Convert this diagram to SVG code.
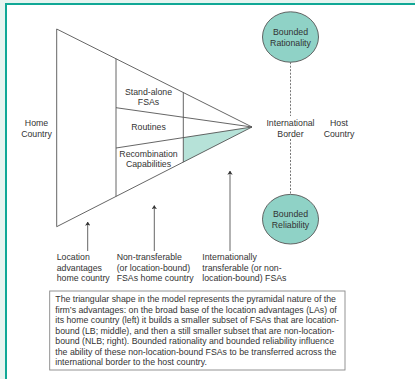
<svg xmlns="http://www.w3.org/2000/svg" width="415" height="379" viewBox="0 0 415 379">
<defs>
<style>
text{font-family:"Liberation Sans",Arial,sans-serif;font-size:8.75px;fill:#333;}
.c{text-anchor:middle;}
.ln{stroke:#555;stroke-width:0.9;fill:none;}
.ell{fill:#8fd2c6;stroke:#555;stroke-width:0.9;}
.dash{stroke:#666;stroke-width:0.9;stroke-dasharray:2,1.5;fill:none;}
.arr{stroke:#555;stroke-width:0.9;fill:none;marker-end:url(#ah);}
</style>
<marker id="ah" viewBox="0 0 6 8" refX="5.5" refY="4" markerWidth="4" markerHeight="5.5" orient="auto" markerUnits="userSpaceOnUse">
<path d="M0,0 L6,4 L0,8 L1.5,4 Z" fill="#333"/>
</marker>
</defs>
<rect x="0" y="0" width="415" height="379" fill="#e6f4f0"/>
<rect x="6" y="4" width="409" height="375" fill="#ffffff"/>
<line x1="5" y1="4" x2="415" y2="4" stroke="#10a896" stroke-width="2"/>
<line x1="6" y1="3" x2="6" y2="379" stroke="#10a896" stroke-width="2"/>

<g id="triangle">
<polygon points="183.3,137.6 252,127 183.3,162.2" fill="#b6e2d8"/>
<polygon class="ln" points="56.7,29 252,127 56.7,226.7"/>
<line class="ln" x1="116" y1="58.8" x2="116" y2="196.4"/>
<line class="ln" x1="183.3" y1="92.5" x2="183.3" y2="162.2"/>
<line class="ln" x1="116" y1="107.7" x2="252" y2="127"/>
<line class="ln" x1="116" y1="148" x2="252" y2="127"/>
<text class="c" x="148.5" y="95">Stand-alone</text>
<text class="c" x="148.5" y="105">FSAs</text>
<text class="c" x="148.5" y="130">Routines</text>
<text class="c" x="148.5" y="157">Recombination</text>
<text class="c" x="148.5" y="167">Capabilities</text>
</g>

<g id="home">
<text class="c" x="36.5" y="126">Home</text>
<text class="c" x="36.5" y="136.5">Country</text>
</g>
<g id="border-label">
<text class="c" x="290.5" y="126">International</text>
<text class="c" x="290.5" y="136.5">Border</text>
</g>
<g id="host">
<text class="c" x="339" y="126">Host</text>
<text class="c" x="339" y="136.5">Country</text>
</g>

<g id="bounded-rationality">
<ellipse class="ell" cx="290.5" cy="37" rx="28" ry="25.2"/>
<text class="c" x="290.5" y="35">Bounded</text>
<text class="c" x="290.5" y="45.5">Rationality</text>
</g>
<g id="bounded-reliability">
<ellipse class="ell" cx="290.5" cy="219.2" rx="28" ry="24.8"/>
<text class="c" x="290.5" y="217">Bounded</text>
<text class="c" x="290.5" y="227.5">Reliability</text>
</g>

<g id="connectors">
<line class="dash" x1="290.5" y1="62.2" x2="290.5" y2="116"/>
<line class="dash" x1="290.5" y1="139" x2="290.5" y2="194.4"/>
<line class="arr" x1="87.7" y1="251" x2="87.7" y2="222"/>
<line class="arr" x1="154.3" y1="251" x2="154.3" y2="205.5"/>
<line class="arr" x1="230" y1="251" x2="230" y2="171"/>
</g>

<g id="label-location">
<text x="56.7" y="260">Location</text>
<text x="56.7" y="270.5">advantages</text>
<text x="56.7" y="281">home country</text>
</g>
<g id="label-nontransferable">
<text x="116.7" y="260">Non-transferable</text>
<text x="116.7" y="270.5">(or location-bound)</text>
<text x="116.7" y="281">FSAs home country</text>
</g>
<g id="label-transferable">
<text x="202.3" y="260">Internationally</text>
<text x="202.3" y="270.5">transferable (or non-</text>
<text x="202.3" y="281">location-bound) FSAs</text>
</g>

<g id="caption">
<rect x="49.7" y="291" width="295.3" height="79" fill="#fff" stroke="#888" stroke-width="0.9"/>
<text x="55.3" y="302.3">The triangular shape in the model represents the pyramidal nature of the</text>
<text x="55.3" y="312.8">firm’s advantages: on the broad base of the location advantages (LAs) of</text>
<text x="55.3" y="323.2">its home country (left) it builds a smaller subset of FSAs that are location-</text>
<text x="55.3" y="333.7">bound (LB; middle), and then a still smaller subset that are non-location-</text>
<text x="55.3" y="344.1">bound (NLB; right). Bounded rationality and bounded reliability influence</text>
<text x="55.3" y="354.6">the ability of these non-location-bound FSAs to be transferred across the</text>
<text x="55.3" y="365">international border to the host country.</text>
</g>
</svg>
